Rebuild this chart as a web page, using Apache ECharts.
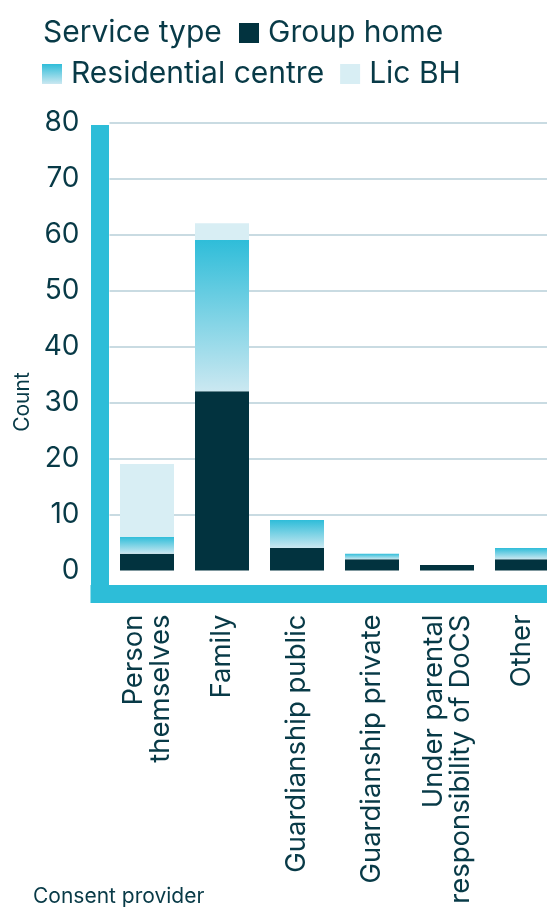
<!DOCTYPE html>
<html>
<head>
<meta charset="utf-8">
<script src="https://cdn.jsdelivr.net/npm/echarts@6/dist/echarts.min.js"></script>
<style>
  html, body { margin: 0; padding: 0; background: #ffffff; }
  #chart { width: 547px; height: 909px; }
</style>
</head>
<body>
<div id="chart"></div>
<script>
// Consent provider categories (x axis)
const categories = [
  'Person\nthemselves',
  'Family',
  'Guardianship public',
  'Guardianship private',
  'Under parental\nresponsibility of DoCS',
  'Other'
];

// Counts by service type, one entry per consent provider
const groupHome = [3, 32, 4, 2, 1, 2];
const residentialCentre = [3, 27, 5, 1, 0, 2];
const licBH = [13, 3, 0, 0, 0, 0];

// Count axis
const countMin = 0;
const countMax = 80;
const countStep = 10;

const FONT = 'Inter, "Liberation Sans", sans-serif';
const TEXT = '#083a47';
const DARK = '#02333f';
const CYAN = '#2dbdd8';
const LIGHT = '#d8eef4';
const GRID = '#b7cfd8';

const residentialFill = new echarts.graphic.LinearGradient(0, 0, 0, 1, [
  { offset: 0, color: '#2fbdd9' },
  { offset: 1, color: '#cbe8f1' }
]);

const chart = echarts.init(document.getElementById('chart'), null, { renderer: 'canvas' });

// thick cyan frame drawn by the second grid's axis lines
const frameLine = { show: true, onZero: false, lineStyle: { color: CYAN, width: 18, cap: 'square' } };

const legendText = { fontSize: 30, color: TEXT, fontFamily: FONT, padding: [0, 0, 0, 4] };

chart.setOption({
  animation: false,
  backgroundColor: '#ffffff',
  textStyle: { fontFamily: FONT },
  title: {
    text: 'Service type',
    left: 43,
    top: 18,
    padding: 0,
    textStyle: { fontSize: 30, fontWeight: 'normal', color: TEXT, fontFamily: FONT }
  },
  legend: [
    {
      data: ['Group home'],
      left: 239,
      top: 18,
      padding: 0,
      icon: 'rect',
      itemWidth: 20,
      itemHeight: 20,
      textStyle: legendText
    },
    {
      data: ['Residential centre', 'Lic BH'],
      left: 42,
      top: 59,
      padding: 0,
      icon: 'rect',
      itemGap: 16,
      itemWidth: 20,
      itemHeight: 20,
      textStyle: legendText
    }
  ],
  grid: [
    { left: 109.5, top: 122.5, width: 450, height: 448, outerBoundsMode: 'none', containLabel: false },
    { left: 99.5, top: 134, width: 520, height: 459.5, outerBoundsMode: 'none', containLabel: false }
  ],
  xAxis: [
    {
      type: 'category',
      gridIndex: 0,
      data: categories,
      axisLine: { show: false },
      axisTick: { show: false },
      axisLabel: {
        rotate: 90,
        margin: 44,
        fontSize: 27.5,
        lineHeight: 27,
        color: TEXT,
        fontFamily: FONT,
        interval: 0
      }
    },
    {
      type: 'value',
      gridIndex: 1,
      min: 0,
      max: 1,
      axisLine: frameLine,
      axisTick: { show: false },
      axisLabel: { show: false },
      splitLine: { show: false }
    }
  ],
  yAxis: [
    {
      type: 'value',
      gridIndex: 0,
      min: countMin,
      max: countMax,
      interval: countStep,
      axisLine: { show: false },
      axisTick: { show: false },
      axisLabel: { margin: 30, fontSize: 28, color: TEXT, fontFamily: FONT },
      splitLine: {
        show: true,
        lineStyle: {
          width: 1.5,
          color: ['rgba(0,0,0,0)', GRID, GRID, GRID, GRID, GRID, GRID, GRID, GRID]
        }
      }
    },
    {
      type: 'value',
      gridIndex: 1,
      min: 0,
      max: 1,
      axisLine: frameLine,
      axisTick: { show: false },
      axisLabel: { show: false },
      splitLine: { show: false }
    }
  ],
  graphic: [
    {
      type: 'text',
      x: 23,
      y: 402,
      rotation: Math.PI / 2,
      style: {
        text: 'Count',
        fontSize: 21,
        fontFamily: FONT,
        fill: TEXT,
        align: 'center',
        verticalAlign: 'middle'
      }
    },
    {
      type: 'text',
      x: 33,
      y: 897,
      style: {
        text: 'Consent provider',
        fontSize: 21,
        fontFamily: FONT,
        fill: TEXT,
        align: 'left',
        verticalAlign: 'middle'
      }
    }
  ],
  series: [
    {
      name: 'Group home',
      type: 'bar',
      stack: 'total',
      xAxisIndex: 0,
      yAxisIndex: 0,
      barWidth: '72%',
      itemStyle: { color: DARK },
      data: groupHome
    },
    {
      name: 'Residential centre',
      type: 'bar',
      stack: 'total',
      xAxisIndex: 0,
      yAxisIndex: 0,
      barWidth: '72%',
      itemStyle: { color: residentialFill },
      data: residentialCentre
    },
    {
      name: 'Lic BH',
      type: 'bar',
      stack: 'total',
      xAxisIndex: 0,
      yAxisIndex: 0,
      barWidth: '72%',
      itemStyle: { color: LIGHT },
      data: licBH
    }
  ]
});
</script>
</body>
</html>
